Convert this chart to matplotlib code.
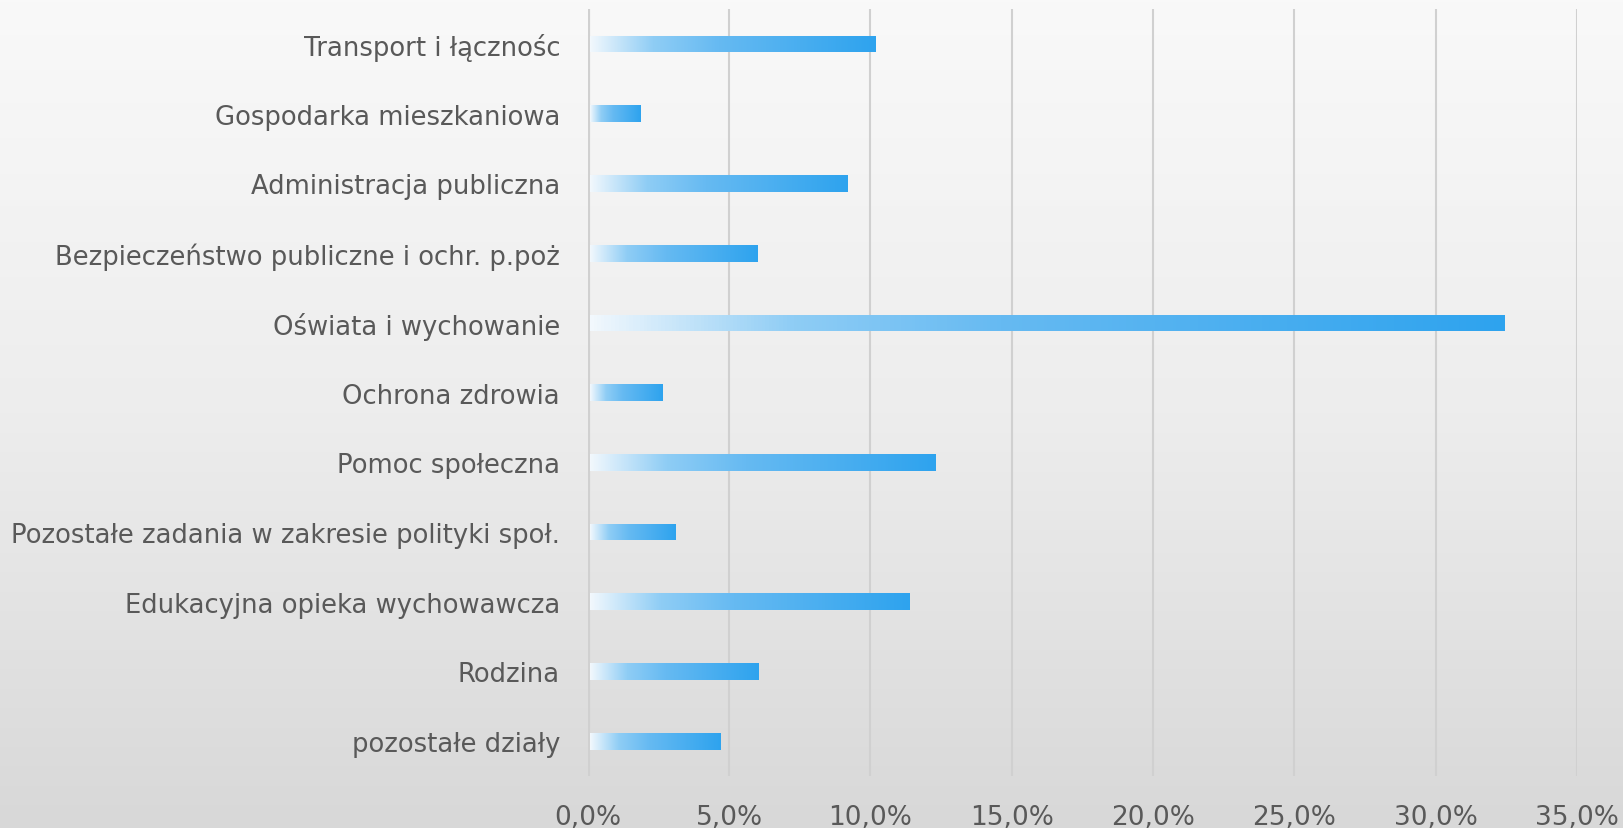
import numpy as np
import matplotlib
matplotlib.use("Agg")
import matplotlib.pyplot as plt
from matplotlib.colors import LinearSegmentedColormap
from matplotlib.patches import Rectangle
from matplotlib.ticker import FuncFormatter

# data (share of expenditure, %)
categories = [
    "Transport i łącznośc",
    "Gospodarka mieszkaniowa",
    "Administracja publiczna",
    "Bezpieczeństwo publiczne i ochr. p.poż",
    "Oświata i wychowanie",
    "Ochrona zdrowia",
    "Pomoc społeczna",
    "Pozostałe zadania w zakresie polityki społ.",
    "Edukacyjna opieka wychowawcza",
    "Rodzina",
    "pozostałe działy",
]
values = [10.2, 1.85, 9.2, 6.0, 32.45, 2.65, 12.3, 3.1, 11.4, 6.05, 4.7]
xticks = [0, 5, 10, 15, 20, 25, 30, 35]

text_color = "#595959"
plt.rcParams["font.family"] = ["DejaVu Sans"]

fig = plt.figure(figsize=(16.24, 8.29), dpi=100)

# background gradient for the whole slide
bg = fig.add_axes([0, 0, 1, 1], zorder=-10)
grad = np.linspace(0, 1, 256).reshape(-1, 1)
bg_cmap = LinearSegmentedColormap.from_list("bg", ["#f9f9f9", "#ededed", "#d8d8d8"])
bg.imshow(grad, aspect="auto", cmap=bg_cmap, extent=[0, 1, 0, 1], origin="upper")
bg.axis("off")

ax = fig.add_axes([0.362, 0.0627, 0.609, 0.925])
ax.patch.set_alpha(0)

bar_cmap = LinearSegmentedColormap.from_list(
    "bar", [(0, "#f2f8fd"), (0.22, "#8fcdf5"), (0.45, "#66baf2"), (1, "#2ea3ee")])
hgrad = np.linspace(0, 1, 256).reshape(1, -1)

n = len(categories)
h = 0.24
for i, (cat, v) in enumerate(zip(categories, values)):
    y = n - 1 - i
    x0 = 0.08
    im = ax.imshow(hgrad, aspect="auto", cmap=bar_cmap,
                   extent=[x0, v, y - h / 2, y + h / 2], zorder=3)
    clip = Rectangle((x0, y - h / 2), v - x0, h, transform=ax.transData)
    im.set_clip_path(clip)

ax.set_xlim(0, 35)
ax.set_ylim(-0.5, n - 0.5)
ax.set_yticks(range(n))
ax.set_yticklabels(categories[::-1])
ax.set_xticks(xticks)
ax.xaxis.set_major_formatter(FuncFormatter(lambda x, p: f"{x:.1f}%".replace(".", ",")))

ax.grid(axis="x", color="#d0d0d0", linewidth=1.5, zorder=0)
ax.axvline(0, color="#d0d0d0", linewidth=3, zorder=1)
for s in ax.spines.values():
    s.set_visible(False)
ax.tick_params(axis="y", length=0, pad=20, labelsize=18.6, labelcolor=text_color)
ax.tick_params(axis="x", length=0, pad=20, labelsize=19, labelcolor=text_color)

fig.savefig("out.png", dpi=100)
